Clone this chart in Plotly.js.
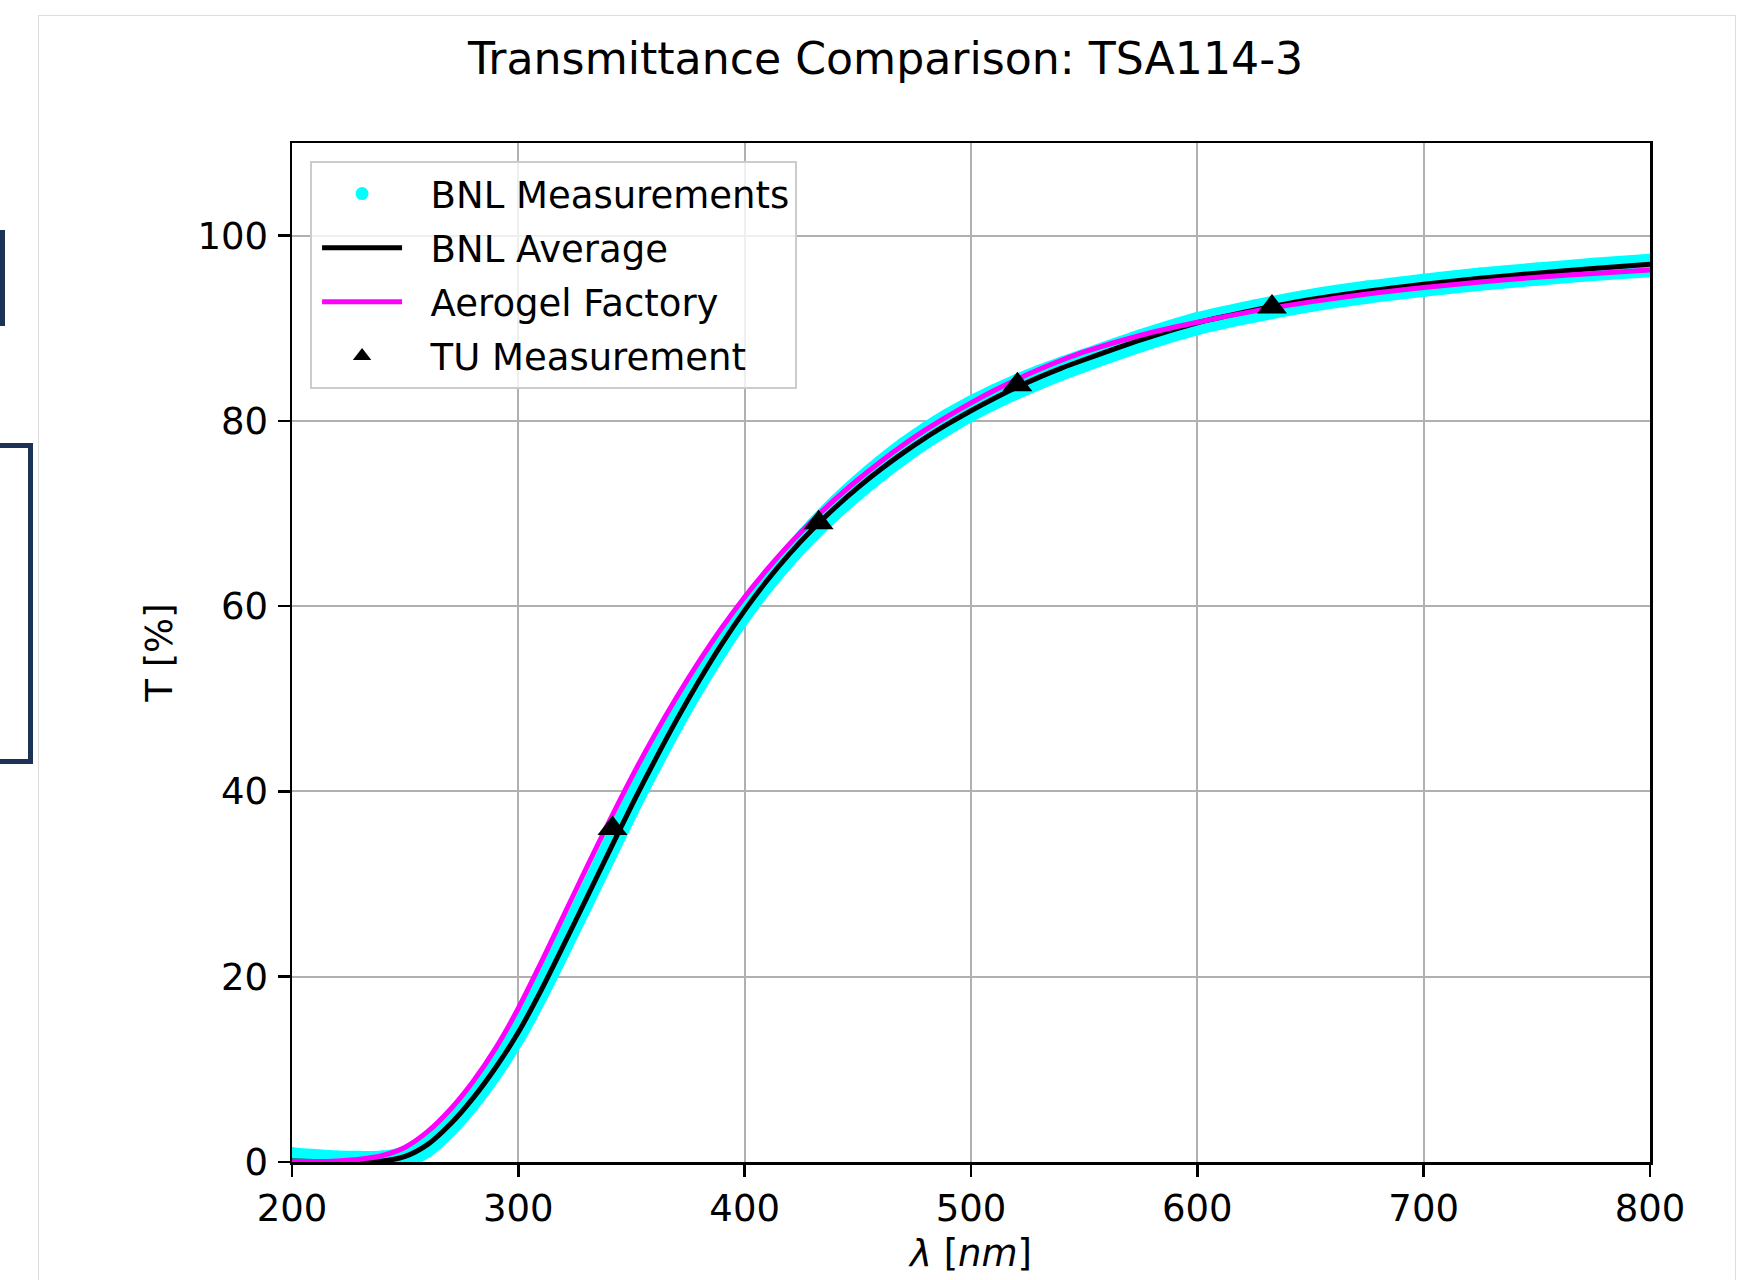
<!DOCTYPE html>
<html>
<head>
<meta charset="utf-8">
<script src="https://cdn.plot.ly/plotly-3.0.1.min.js"></script>
<style>
html,body{margin:0;padding:0;background:#fff;}
#wrap{position:relative;width:1747px;height:1280px;overflow:hidden;background:#fff;}
#chart{position:absolute;left:0;top:0;width:1747px;height:1280px;}
.deco{position:absolute;pointer-events:none;box-sizing:border-box;}
</style>
</head>
<body>
<div id="wrap">
  <div id="chart"></div>
  <div class="deco" style="left:38px;top:15px;width:1698px;height:1300px;border:1px solid #dedede;"></div>
  <div class="deco" style="left:0;top:230px;width:5px;height:96px;background:#1d3356;"></div>
  <div class="deco" style="left:-10px;top:443px;width:43px;height:321px;border:5px solid #1d3356;"></div>
</div>
<script>
// wavelength grid (nm)
const wavelength = [200,210,220,230,240,250,260,270,280,290,300,310,320,330,340,350,360,370,380,390,400,
  410,420,430,440,450,460,470,480,490,500,510,520,530,540,550,575,600,625,650,675,700,725,750,775,800];

// BNL average transmittance (%)
const bnlAverage = [0.1,0.05,0.0,0.0,0.1,0.6,1.9,4.1,6.9,10.2,14.0,18.5,23.4,28.4,33.45,38.45,43.2,47.75,52.0,55.95,59.55,
  62.8,65.7,68.3,70.65,72.8,74.75,76.55,78.2,79.7,81.1,82.4,83.6,84.7,85.7,86.6,88.75,90.6,91.95,93.1,94.0,94.75,95.4,95.95,96.45,96.9];

// Aerogel Factory transmittance (%)
const factory = [0.05,0.05,0.12,0.3,0.7,1.6,3.3,5.7,8.7,12.3,16.6,21.5,26.6,31.7,36.7,41.5,46.0,50.2,54.1,57.7,61.0,
  64.0,66.75,69.25,71.55,73.65,75.6,77.4,79.05,80.55,81.95,83.25,84.45,85.55,86.55,87.45,89.25,90.65,91.85,92.85,93.7,94.4,95.0,95.5,95.92,96.3];

// BNL individual measurements: highest and lowest readings at each wavelength (%)
const bnlHigh = [0.9,0.7,0.55,0.5,0.55,1.0,2.4,4.7,7.6,11.0,14.9,19.5,24.4,29.4,34.45,39.45,44.2,48.65,52.8,56.4,60.0,
  63.2,66.1,68.8,71.3,73.55,75.6,77.5,79.2,80.7,82.05,83.25,84.35,85.35,86.25,87.1,89.2,91.05,92.4,93.55,94.45,95.2,95.85,96.4,96.9,97.35];
const bnlLow = [0.8,0.6,0.45,0.4,0.3,0.05,1.2,3.4,6.2,9.5,13.3,17.8,22.7,27.7,32.75,37.75,42.5,47.05,51.3,55.25,58.85,
  62.1,65.0,67.6,69.95,72.1,74.1,75.95,77.65,79.2,80.6,81.85,83.0,84.05,85.05,85.95,88.1,89.95,91.3,92.45,93.35,94.1,94.75,95.3,95.8,96.2];

// TU measurements
const tuWavelength = [341.6, 432.7, 520.5, 633];
const tuValue = [36.0, 69.0, 83.9, 92.3];

const xTicks = [200,300,400,500,600,700,800];
const yTicks = [0,20,40,60,80,100];

const CYAN = '#00ffff';
const FONT = 'DejaVu Sans, Verdana, sans-serif';
const PAD = '\u00a0\u00a0';

const bandLine = {color: CYAN, width: 13, shape: 'spline', smoothing: 0.8};

const traces = [
  {x: wavelength, y: bnlLow, mode: 'lines', line: bandLine, showlegend: false, hoverinfo: 'skip'},
  {x: wavelength, y: bnlHigh, mode: 'lines', line: bandLine, fill: 'tonexty', fillcolor: CYAN, showlegend: false, hoverinfo: 'skip'},
  {x: wavelength.concat(wavelength), y: bnlLow.concat(bnlHigh), mode: 'markers', name: PAD + 'BNL Measurements',
   marker: {color: CYAN, size: 13}, legendgroup: 'a'},
  {x: wavelength, y: bnlAverage, mode: 'lines', name: PAD + 'BNL Average',
   line: {color: '#000000', width: 5, shape: 'spline', smoothing: 0.8}, legendgroup: 'b'},
  {x: wavelength, y: factory, mode: 'lines', name: PAD + 'Aerogel Factory',
   line: {color: '#ff00ff', width: 5, shape: 'spline', smoothing: 0.8}, legendgroup: 'c'},
  {x: tuWavelength, y: tuValue, mode: 'markers', name: PAD + 'TU Measurement',
   marker: {color: '#000000', symbol: 'triangle-up', size: 26}, legendgroup: 'd'}
];

const axisCommon = {
  showgrid: true, gridcolor: '#b0b0b0', gridwidth: 2,
  showline: true, linecolor: '#000000', linewidth: 2.5, mirror: true,
  ticks: 'outside', ticklen: 12, tickwidth: 2.5, tickcolor: '#000000',
  tickfont: {family: FONT, size: 37, color: '#000000'},
  zeroline: false, automargin: false
};

const layout = {
  width: 1747, height: 1280,
  paper_bgcolor: '#ffffff', plot_bgcolor: '#ffffff',
  margin: {l: 292, r: 97, t: 143, b: 118},
  font: {family: FONT, color: '#000000'},
  title: {text: 'Transmittance Comparison: TSA114-3', font: {family: FONT, size: 44.2, color: '#000000'},
          xref: 'container', x: 0.5069, xanchor: 'center', yref: 'container', y: 0.954, yanchor: 'middle'},
  xaxis: Object.assign({}, axisCommon, {
    range: [200, 800], tickvals: xTicks, ticktext: xTicks.map(String),
    title: {text: '<i>λ</i> [<i>nm</i>]', font: {family: FONT, size: 37, color: '#000000'}, standoff: 11}
  }),
  yaxis: Object.assign({}, axisCommon, {
    range: [0, 110], tickvals: yTicks, ticktext: yTicks.map(String), ticklabelstandoff: 2,
    title: {text: 'T [%]', font: {family: FONT, size: 37, color: '#000000'}, standoff: 14}
  }),
  legend: {
    x: 0.0133, y: 0.9823, xanchor: 'left', yanchor: 'top',
    bgcolor: 'rgba(255,255,255,0.8)', bordercolor: '#cccccc', borderwidth: 2,
    font: {family: FONT, size: 37, color: '#000000'},
    traceorder: 'grouped', tracegroupgap: 3, itemwidth: 80, itemsizing: 'trace', indentation: 5
  },
  showlegend: true,
  hovermode: false
};

Plotly.newPlot('chart', traces, layout, {staticPlot: true, displayModeBar: false});
</script>
</body>
</html>
